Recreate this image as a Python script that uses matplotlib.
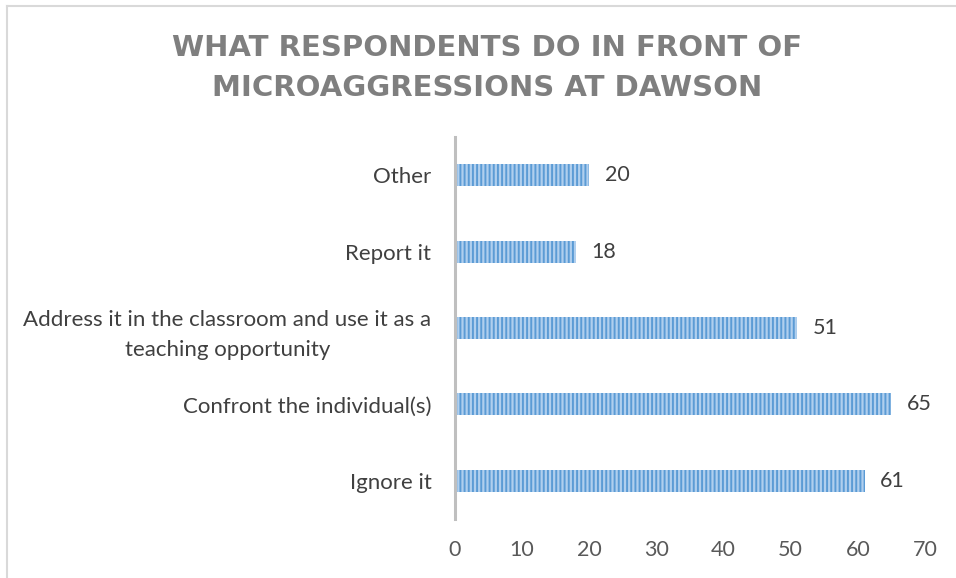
import matplotlib
matplotlib.use("Agg")
import matplotlib.pyplot as plt
from matplotlib.lines import Line2D

categories = ["Ignore it", "Confront the individual(s)",
              "Address it in the classroom and use it as a\nteaching opportunity",
              "Report it", "Other"]
values = [61, 65, 51, 18, 20]
xticks = [0, 10, 20, 30, 40, 50, 60, 70]
title = "WHAT RESPONDENTS DO IN FRONT OF\nMICROAGGRESSIONS AT DAWSON"

plt.rcParams['font.family'] = ['Lato', 'DejaVu Sans']
plt.rcParams['hatch.linewidth'] = 1.4

fig = plt.figure(figsize=(9.56, 5.78), dpi=100)
ax = fig.add_axes([455/956, 1-519/578, (925-455)/956, (519-137)/578])

y = list(range(len(categories)))
bars = ax.barh(y, values, height=0.29, color='#b0cfee', edgecolor='#5b9bd5',
               hatch='||||', linewidth=0)
for yi, v in zip(y, values):
    ax.annotate(str(v), (v, yi), xytext=(11, 0), textcoords='offset points',
                va='center', ha='left', fontsize=15.5, color='#404040')

ax.set_xlim(0, 70)
ax.set_ylim(-0.5, len(categories) - 0.5)
ax.set_xticks(xticks)
ax.set_yticks(y)
ax.set_yticklabels(categories, multialignment='center', linespacing=1.6)
for s in ['top', 'right', 'bottom']:
    ax.spines[s].set_visible(False)
ax.spines['left'].set_color('#bfbfbf')
ax.spines['left'].set_linewidth(2.2)
ax.tick_params(axis='both', length=0, labelsize=15.5, colors='#595959')
ax.tick_params(axis='y', pad=17, colors='#404040', labelsize=16)
ax.tick_params(axis='x', pad=15)

fig.text(487/956, 1-68/578, title, ha='center', va='center', fontsize=21,
         fontweight='bold', color='#7f7f7f', linespacing=1.5,
         family=['DejaVu Sans'])

fig.add_artist(Line2D([7/956, 7/956], [0, 1-6/578], transform=fig.transFigure,
                      color='#d9d9d9', lw=1.5))
fig.add_artist(Line2D([7/956, 1], [1-6/578, 1-6/578], transform=fig.transFigure,
                      color='#d9d9d9', lw=1.5))

fig.savefig("out.png", dpi=100)
